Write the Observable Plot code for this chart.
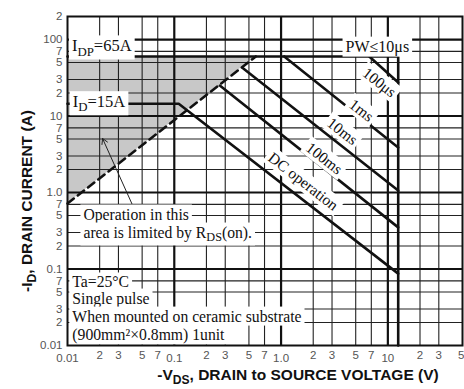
<!DOCTYPE html>
<html><head><meta charset="utf-8">
<script src="https://cdn.jsdelivr.net/npm/d3@7"></script>
<script src="https://cdn.jsdelivr.net/npm/@observablehq/plot@0.6"></script>
<style>html,body{margin:0;padding:0;background:#fff}</style>
</head><body><div id="chart"></div>
<script>
// ---- axes ----
const xMajor = [0.1, 1, 10];
const xMinor = [0.02,0.03,0.05,0.07,0.2,0.3,0.5,0.7,2,3,5,7,20,30];
const yMajor = [0.1, 1, 10, 100];
const yMinor = [0.02,0.03,0.05,0.07,0.2,0.3,0.5,0.7,2,3,5,7,20,30,50,70];
const xTickMinor = [0.02,0.03,0.05,0.07,0.2,0.3,0.5,0.7,2,3,5,7,20,30];
const xTickMinorLabels = ["2","3","5","7","2","3","5","7","2","3","5","7","2","3"];
const xTickEnd = [50];
const xTickEndLabels = ["5"];
const xTickMajor = [0.01,0.1,1,10];
const xTickMajorLabels = ["0.01","0.1","1.0","10"];
const yTicks = [0.01,0.02,0.03,0.05,0.07,0.1,0.2,0.3,0.5,0.7,1,2,3,5,7,10,20,30,50,70,100,200];
const yTickLabels = ["0.01","2","3","5","7","0.1","2","3","5","7","1.0","2","3","5","7","10","2","3","5","7","100","2"];

// ---- curves (V in volts, I in amps) ----
const rdsV = [0.01, 0.58];      const rdsI = [0.72, 60];      // R_DS(on) limit (dashed)
const pwV  = [0.01, 12.5, 12.5]; const pwI = [60, 60, 0.01];  // PW<=10us boundary
const dcV  = [0.01, 0.11, 12.5]; const dcI = [14.5, 14.5, 0.087];
const ms100V = [0.267, 12.5];   const ms100I = [25, 0.35];
const ms10V  = [0.44, 12.5];    const ms10I  = [42, 1.06];
const ms1V   = [1.07, 12.5];    const ms1I   = [60, 3.87];
const us100V = [6.7, 12.5];     const us100I = [60, 27.4];

// ---- annotations ----
const noteText = ["I_{DP}=65A","I_{D}=15A","Operation in this","area is limited by R_{DS}(on).",
  "Ta=25°C","Single pulse","When mounted on ceramic substrate","(900mm²×0.8mm) 1unit"];
const noteV = [0.0110, 0.0112, 0.0141, 0.0141, 0.0111, 0.0111, 0.0111, 0.0111];
const noteI = [82, 15.3, 0.516, 0.30, 0.0667, 0.0411, 0.0239, 0.0139];
const pwText = ["PW≤10μs"]; const pwTV = [7.97]; const pwTI = [81];
const curveLabel  = ["100μs","1ms","10ms","100ms","DC operation"];
const curveLabelV = [8.32, 5.64, 3.74, 2.53, 1.61];
const curveLabelI = [27.4, 11.8, 6.27, 2.78, 1.39];
const arrowV1 = [0.0408], arrowI1 = [0.676], arrowV2 = [0.0213], arrowI2 = [5.08];
const xTitle = "-V_{DS}, DRAIN to SOURCE VOLTAGE (V)";
const yTitle = "-I_{D}, DRAIN CURRENT (A)";

const xMinorFmt = new Map(xTickMinor.map((d,i)=>[d,xTickMinorLabels[i]]));
const xEndFmt = new Map(xTickEnd.map((d,i)=>[d,xTickEndLabels[i]]));
const xMajorFmt = new Map(xTickMajor.map((d,i)=>[d,xTickMajorLabels[i]]));
const yFmt = new Map(yTicks.map((d,i)=>[d,yTickLabels[i]]));

const serif = "'Liberation Serif','Times New Roman',serif";
const sans = "'Liberation Sans',Arial,sans-serif";
const thick = 2.6;
const tickStyle = {fontSize: 11.5, fill: "#555", fontFamily: sans};

const svg = Plot.plot({
  width: 464, height: 389,
  marginLeft: 67, marginRight: 2, marginTop: 16, marginBottom: 44,
  style: {background: "white", fontFamily: sans},
  x: {type: "log", domain: [0.01, 50], axis: null},
  y: {type: "log", domain: [0.01, 200], axis: null},
  marks: [
    Plot.areaY(rdsV, {x: rdsV, y1: rdsI, y2: rdsV.map(()=>pwI[0]), fill: "#c8c8c8"}),
    Plot.ruleX(xMinor, {stroke: "#222", strokeWidth: 1.1}),
    Plot.ruleY(yMinor, {stroke: "#222", strokeWidth: 1.1}),
    Plot.ruleX(xMajor, {stroke: "#111", strokeWidth: 2.2}),
    Plot.ruleY(yMajor, {stroke: "#111", strokeWidth: 2.2}),
    Plot.line(rdsV, {x: rdsV, y: rdsI, stroke: "#111", strokeWidth: thick, strokeDasharray: "8,5"}),
    Plot.line(pwV, {x: pwV, y: pwI, stroke: "#111", strokeWidth: thick}),
    Plot.line(dcV, {x: dcV, y: dcI, stroke: "#111", strokeWidth: thick}),
    Plot.line(ms100V, {x: ms100V, y: ms100I, stroke: "#111", strokeWidth: thick}),
    Plot.line(ms10V, {x: ms10V, y: ms10I, stroke: "#111", strokeWidth: thick}),
    Plot.line(ms1V, {x: ms1V, y: ms1I, stroke: "#111", strokeWidth: thick}),
    Plot.line(us100V, {x: us100V, y: us100I, stroke: "#111", strokeWidth: thick}),
    Plot.arrow(arrowV1, {x1: arrowV1, y1: arrowI1, x2: arrowV2, y2: arrowI2, stroke: "#222", strokeWidth: 1, headLength: 9}),
    Plot.text(noteText.slice(0,2), {x: noteV.slice(0,2), y: noteI.slice(0,2), text: d=>d, textAnchor: "start",
      fontFamily: serif, fontSize: 16.5, fill: "#111"}),
    Plot.text(noteText.slice(2), {x: noteV.slice(2), y: noteI.slice(2), text: d=>d, textAnchor: "start",
      fontFamily: serif, fontSize: 15.7, fill: "#111"}),
    Plot.text(pwText, {x: pwTV, y: pwTI, text: d=>d, textAnchor: "middle",
      fontFamily: serif, fontSize: 16, fill: "#111"}),
    Plot.text(curveLabel, {x: curveLabelV, y: curveLabelI, text: d=>d, rotate: 38,
      fontFamily: serif, fontSize: 15.5, fill: "#111"}),
    Plot.text(xTickMinor, {x: d=>d, text: d=>xMinorFmt.get(d), frameAnchor: "bottom", lineAnchor: "top", textAnchor: "middle", dy: 5, ...tickStyle}),
    Plot.text(xTickEnd, {x: d=>d, text: d=>xEndFmt.get(d), frameAnchor: "bottom", lineAnchor: "top", textAnchor: "end", dx: 2, dy: 5, ...tickStyle}),
    Plot.text(xTickMajor, {x: d=>d, text: d=>xMajorFmt.get(d), frameAnchor: "bottom", lineAnchor: "top", textAnchor: "middle", dy: 8, ...tickStyle}),
    Plot.text(yTicks, {y: d=>d, text: d=>yFmt.get(d), frameAnchor: "left", textAnchor: "end", lineAnchor: "middle", dx: -5, ...tickStyle}),
    Plot.text([xTitle], {frameAnchor: "bottom", textAnchor: "middle", lineAnchor: "middle", dx: 33, dy: 30, text: d=>d,
      fontFamily: sans, fontWeight: "bold", fontSize: 15.5, fill: "#111"}),
    Plot.text([yTitle], {frameAnchor: "left", textAnchor: "middle", lineAnchor: "middle", dx: -40, dy: 20, rotate: -90, text: d=>d,
      fontFamily: sans, fontWeight: "bold", fontSize: 15.5, fill: "#111"}),
    Plot.frame({stroke: "#111", strokeWidth: 2})
  ]
});
document.getElementById("chart").append(svg);

const NS = "http://www.w3.org/2000/svg";
// mark annotation texts (to get white boxes)
const boxedSet = new Set([...noteText, ...pwText, ...curveLabel]);
const boxed = [];
svg.querySelectorAll("text").forEach(t => { if (boxedSet.has(t.textContent)) boxed.push(t); });

// subscripts: "_{...}"
svg.querySelectorAll("text").forEach(t => {
  const s = t.textContent;
  if (!s.includes("_{")) return;
  const fs = parseFloat(getComputedStyle(t).fontSize) || 12;
  const shift = fs * 0.25;
  t.textContent = "";
  const re = /_\{([^}]*)\}/g;
  let last = 0, m, pending = 0;
  const add = (str, sub) => {
    const sp = document.createElementNS(NS, "tspan");
    sp.textContent = str;
    if (sub) { sp.setAttribute("dy", shift); sp.setAttribute("font-size", fs * 0.78); pending = -shift; }
    else if (pending) { sp.setAttribute("dy", pending); pending = 0; }
    t.appendChild(sp);
  };
  while ((m = re.exec(s))) {
    if (m.index > last) add(s.slice(last, m.index), false);
    add(m[1], true);
    last = re.lastIndex;
  }
  if (last < s.length) add(s.slice(last), false);
});

// white boxes behind annotation texts
boxed.forEach(t => {
  const b = t.getBBox();
  const r = document.createElementNS(NS, "rect");
  const px = 3, py = 1;
  r.setAttribute("x", b.x - px); r.setAttribute("y", b.y - py);
  r.setAttribute("width", b.width + 2*px); r.setAttribute("height", b.height + 2*py);
  r.setAttribute("fill", "white");
  r.setAttribute("stroke", "none");
  const tr = t.getAttribute("transform"); if (tr) r.setAttribute("transform", tr);
  t.parentNode.insertBefore(r, t);
});
</script>
</body></html>
